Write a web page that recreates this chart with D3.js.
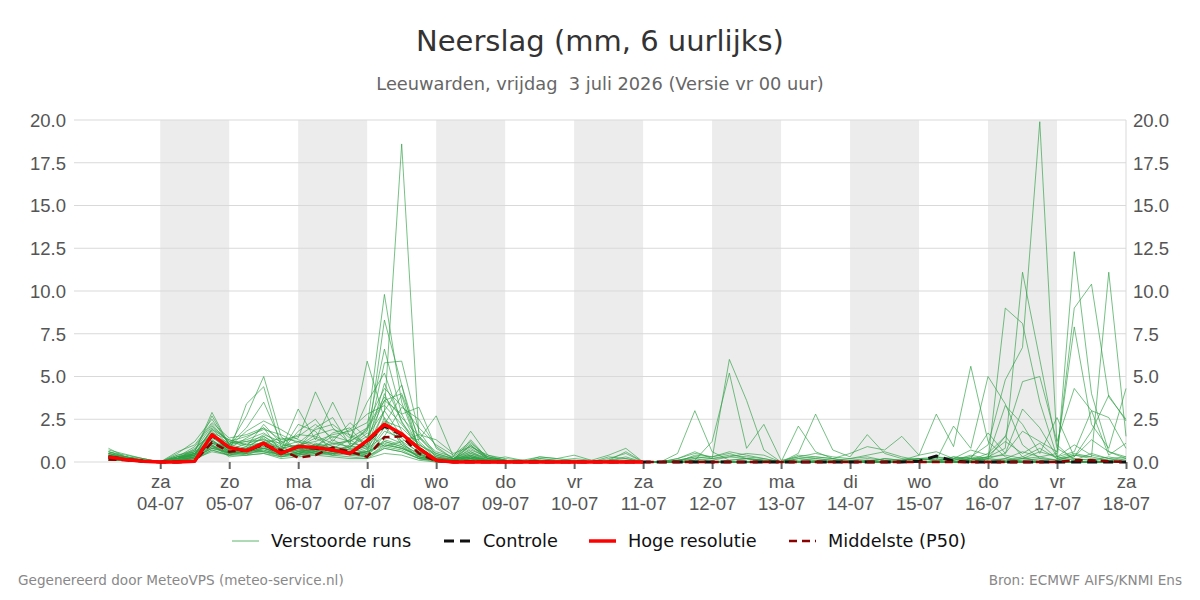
<!DOCTYPE html>
<html>
<head>
<meta charset="utf-8">
<title>Neerslag (mm, 6 uurlijks)</title>
<style>
    body { margin: 0; background: #fff; }
    svg { display: block; font-family: "DejaVu Sans", sans-serif; }
    .grid line { stroke: #d9d9d9; stroke-width: 1; }
    .run { fill: none; stroke: #2e9e44; stroke-opacity: 0.65; stroke-width: 1; }
    .axis text { fill: #555; font-size: 18.5px; }
    .axis path { display: none; }
    .xaxis line { stroke: #666; stroke-width: 2; }
</style>
</head>
<body>
<svg id="chart" width="1200" height="600"></svg>
<script src="https://d3js.org/d3.v7.min.js"></script>
<script>

// 6-hourly steps, first value valid 03-07 06:00
var firstStep = "2026-07-03T06:00:00Z";
var stepCount = 60;

var dayNames = ["za", "zo", "ma", "di", "wo", "do", "vr", "za", "zo", "ma", "di", "wo", "do", "vr", "za"];
var dayDates = ["04-07", "05-07", "06-07", "07-07", "08-07", "09-07", "10-07", "11-07", "12-07", "13-07", "14-07", "15-07", "16-07", "17-07", "18-07"];
var shadedDays = ["04-07", "06-07", "08-07", "10-07", "12-07", "14-07", "16-07"];
var yTicks = [0, 2.5, 5, 7.5, 10, 12.5, 15, 17.5, 20];

// Hoge resolutie (only first part of the period)
var hres = [0.3,0.15,0.05,0,0,0.05,1.6,0.85,0.65,1.1, 0.5,0.9,0.85,0.7,0.5,1.25,2.2,1.65,0.8,0.1,
            0,0,0,0,0,0,0,0,0,0, 0,0];

// Middelste (P50)
var p50 = [0.15,0.1,0.05,0,0,0.05,1.15,0.6,0.7,1.0, 0.7,0.25,0.4,0.85,0.6,0.3,1.45,1.5,0.5,0.05,
           0,0.05,0,0,0,0,0,0,0,0, 0,0,0,0,0,0,0,0,0,0,
           0,0,0,0,0,0,0,0,0,0, 0,0,0,0,0,0,0.1,0.1,0.05,0];

// Controle
var controle = [0.3,0.15,0.05,0,0,0.05,1.55,0.85,0.65,1.05, 0.5,0.9,0.8,0.7,0.5,1.2,2.1,1.6,0.8,0.1,
                0,0,0,0,0,0,0,0,0,0, 0,0,0,0,0,0,0,0,0,0,
                0,0,0,0,0,0,0,0.05,0.35,0.05, 0,0,0,0,0,0,0,0,0,0];

// Verstoorde runs
var runs = [
 [0.3,0.2,0.1,0,0.2,0.5,1.2,0.8,0.6,1.0, 0.5,0.8,1.0,0.7,0.9,1.5,3.0,18.6,1.5,0.3, 0.1,0.2,0.1,0,0,0.1,0,0,0,0, 0,0,0,0,0,0,0,0,0,0, 0,0,0,0,0.1,0,0,0,0,0, 0,0,0.2,0,0,0,0,0,0,0],
 [0.5,0.3,0.1,0,0.3,0.6,2.9,1.0,0.8,1.5, 0.9,1.2,0.6,1.3,0.8,2.0,9.8,3.5,0.8,0.2, 0.1,0.3,0,0,0,0,0,0,0,0, 0,0,0,0,0,0,0,0,0,0, 0,0,0,0,0,0,0,0,0,0, 0.2,0,0,0,0,0,0,0,0,0],
 [0.2,0.1,0,0,0.1,0.3,1.5,0.6,0.4,0.8, 0.6,0.4,1.1,0.8,0.5,1.0,8.3,4.5,1.2,0.3, 0.1,0.5,0.1,0,0,0,0,0,0,0, 0,0,0,0,0,0,0,0,0,0, 0,0,0,0,0,0,0.1,0.2,0.3,0.1, 0.3,1.0,4.8,6.7,19.9,1.0,0.1,0.5,0.2,0],
 [0.4,0.2,0.1,0,0.2,0.4,2.0,1.2,0.9,2.2, 1.1,0.7,0.9,1.5,1.2,1.8,6.6,2.8,0.9,0.2, 0.2,1.0,0.2,0.1,0,0,0,0,0,0, 0,0,0,0,0.2,0,0,0,0,0, 0,0,0,0,0,0,0,0,0,0, 0,0,0.1,0.2,0.1,0,12.3,4.0,0.6,0.2],
 [0.6,0.4,0.2,0,0.4,0.7,1.8,0.7,1.1,1.3, 0.8,1.0,0.8,0.6,1.0,5.9,2.5,1.0,0.5,0.1, 0,0.2,0,0,0,0,0,0,0,0, 0,0,0,0,0,0,0,0,0,0, 0,0,0,0,0,0,0,0,0,0, 0,0,0,0,0,0,0,0,0,0],
 [0.3,0.1,0,0,0.1,0.5,1.4,0.9,0.7,0.6, 0.4,0.9,1.4,0.9,0.7,1.2,5.8,5.9,1.8,0.4, 0.2,0.7,0.3,0.1,0,0,0,0,0,0, 0,0,0,0,0,0,0,0,0,0, 0,0,0,0,0,0,0,0,0,0, 0,0,0,0,0,0,0,0,0,0],
 [0.8,0.3,0.1,0,0.5,1.2,2.5,1.0,2.7,5.0, 1.5,0.6,0.8,1.1,0.9,0.8,2.2,3.9,0.7,0.1, 0,0.1,0,0,0,0,0,0,0,0, 0,0,0,0,0,0,0,0,0,0, 0,0,0,0,0,0,0,0,0,0, 0,0,0,0,0,0,0,0,0,0],
 [0.1,0.1,0,0,0.2,0.8,1.6,0.6,3.4,4.4, 0.9,0.5,0.7,0.8,1.3,0.7,4.0,1.8,0.6,0.3, 0.1,1.3,0.2,0,0,0.1,0,0,0,0, 0,0,0,0,0,0,0,0,0,0, 0,0,0,0,0,0,0,0,0,0, 0,0,0,0,0,0,0,0,0,0],
 [0.5,0.2,0.1,0,0.3,0.4,1.9,1.3,1.0,1.6, 1.2,1.4,4.1,2.0,1.1,0.9,3.0,1.5,1.3,2.7, 0.3,1.8,0.4,0.1,0,0,0,0,0,0, 0,0,0,0,0,0,0,0,0,0, 0,0,0,0,0,0,0,0,0,0, 0,0,0,0,0,0,0,0,0,0],
 [0.2,0.1,0,0,0.2,0.6,1.3,0.5,0.8,1.2, 0.7,3.1,1.3,3.5,1.5,1.0,4.6,2.4,0.7,0.2, 0.1,0.6,0.1,0,0,0,0,0,0,0, 0,0,0,0,0,0,0,0,0,0, 0,0,0,0,0,0,0,0,0,0, 0,0,0,0,0,0,0,0,0,0],
 [0.4,0.3,0.1,0,0.1,0.3,1.1,0.8,1.4,2.0, 0.6,1.8,2.5,1.2,2.3,1.4,3.6,2.8,3.2,0.8, 0.2,0.4,0.1,0.3,0.1,0,0,0,0,0, 0,0,0,0,0,0,0,0,0,0, 0,0,0,0,0,0,0,0,0,0, 0,0,0,0,0,0,0,0,0,0],
 [0.3,0.2,0.1,0,0.1,0.2,0.9,0.7,0.5,0.9, 0.3,0.6,0.5,0.9,0.6,0.4,1.2,0.9,0.3,0.1, 0,0.3,0.1,0,0,0.2,0.1,0,0,0.2, 0.5,0,0,0.1,0.3,0.2,6.0,3.6,0.7,0, 0.2,0.1,0,0,0.1,0,0,0,0,0, 0,0,0,0,0,0,0,0,0,0],
 [0.2,0.1,0,0,0,0.1,0.7,0.4,0.6,0.7, 0.4,0.5,0.9,0.6,0.4,0.3,2.6,1.2,0.2,0, 0,0.2,0,0,0,0,0,0,0,0, 0,0,0,0,0.1,1.2,5.2,0.8,2.2,0.1, 0.3,0.2,0.1,0,0,0,0,0,0,0, 0,0,0,0,0,0,0,0,0,0],
 [0.1,0.1,0,0,0.3,0.5,1.0,0.3,0.4,0.5, 0.2,0.3,0.4,0.3,0.2,0.2,0.5,0.4,0.1,0, 0.1,0.4,0.1,0,0.1,0,0,0.1,0,0.1, 0.2,0,0,0.5,3.0,0.6,0.1,0.2,0.1,0, 2.1,0.6,0.2,0,0,0,0,0,0,0, 0,0,0,0,0,0,0,0,0,0],
 [0.3,0.2,0,0,0.1,0.3,0.8,0.5,0.6,0.8, 0.5,0.4,0.6,0.5,0.6,0.3,0.8,0.6,0.2,0.1, 0.1,0.5,0.2,0.1,0,0.3,0.2,0.4,0.1,0, 0,0,0,0.1,0.3,0.2,0.3,0.5,0.4,0, 0.5,2.8,0.7,0.3,1.6,0.5,0.2,0.1,0.3,0.2, 0.1,0.5,1.5,0.3,0,0,0,0,0,0],
 [0.2,0.1,0,0,0.2,0.4,1.0,0.4,0.7,0.6, 0.5,0.7,0.7,0.8,0.4,0.6,1.0,0.8,0.4,0.2, 0.1,1.0,0.1,0,0,0,0,0.1,0,0.1, 0.6,0,0,0,0.4,0.3,0.5,0.2,0.1,0, 0.4,0.3,0.2,0.5,0.9,0.7,1.5,0.4,2.8,0.9, 5.6,1.2,0.3,0,0,0,0,0,0,0],
 [0.4,0.2,0.1,0,0.1,0.2,0.8,0.6,0.5,1.1, 0.7,0.5,0.8,0.4,0.8,0.5,1.8,1.4,0.5,0.1, 0,0.2,0,0,0,0,0,0,0,0, 0,0,0,0,0,0,0,0,0,0, 0,0,0.1,0,0,0.2,0.1,0.2,0.1,0.3, 0.2,0.1,9.0,8.1,3.5,0.3,0.1,0,0,0],
 [0.3,0.1,0,0,0.2,0.4,1.0,0.5,0.7,0.9, 0.6,0.8,0.5,0.7,0.5,0.6,1.1,0.8,0.4,0.2, 0.1,0.3,0.1,0,0,0,0,0,0,0, 0,0,0,0,0,0,0,0,0,0, 0,0,0,0,0,0,0,0,0.1,2.1, 0.8,5.0,3.4,1.0,0.2,0.1,0.4,0.2,0.1,0],
 [0.2,0.1,0,0,0.1,0.3,0.9,0.5,0.6,0.8, 0.4,0.6,0.7,0.5,0.6,0.4,1.3,1.0,0.3,0.1, 0,0.1,0,0,0,0,0,0,0,0, 0,0,0,0,0,0,0,0,0,0, 0,0,0,0,0,0,0,0,0,0, 0.1,0.3,0.8,11.1,6.0,0.8,0.2,0.1,0,0],
 [0.6,0.3,0.1,0,0.2,0.5,1.2,0.7,0.8,1.0, 0.5,0.4,0.6,0.9,0.7,0.6,2.0,1.2,0.6,0.2, 0.1,0.2,0,0,0,0,0,0,0,0, 0,0,0,0,0,0,0,0,0,0, 0,0,0,0,0,0,0,0,0,0, 0,0,0,0.2,0.3,0.5,9.0,10.4,3.8,2.5],
 [0.3,0.2,0.1,0,0.1,0.2,0.7,0.4,0.5,0.6, 0.3,0.5,0.4,0.6,0.5,0.3,0.9,0.7,0.2,0.1, 0,0.1,0,0,0,0,0,0,0,0, 0,0,0,0,0,0,0,0,0,0, 0,0,0,0,0,0,0,0,0,0, 0,0,0,0.1,0.2,0.1,0.4,0.3,11.1,1.5],
 [0.1,0.1,0,0,0.2,0.4,1.1,0.6,0.8,1.2, 0.8,0.6,1.0,0.8,0.6,0.5,1.5,1.1,0.4,0.1, 0.1,0.3,0,0,0,0,0,0,0,0, 0,0,0,0,0,0,0,0,0,0, 0,0,0,0,0,0,0,0,0,0, 0,0.2,0.5,1.8,1.2,0.6,7.9,2.2,0.8,4.3],
 [0.4,0.2,0.1,0,0.1,0.3,0.8,0.6,0.5,0.7, 0.4,0.5,0.6,0.4,0.5,0.3,1.0,0.8,0.3,0.1, 0,0.2,0,0,0,0,0,0,0,0, 0,0,0,0,0,0,0,0,0,0, 0,0,0,0,0,0,0,0,0,0.3, 0.1,0.2,1.5,4.7,5.0,1.2,4.3,3.0,2.6,0.8],
 [0.2,0.1,0,0,0.1,0.2,0.6,0.4,0.4,0.5, 0.3,0.4,0.5,0.4,0.3,0.2,0.8,0.6,0.2,0.1, 0,0.1,0,0,0,0,0,0,0,0, 0,0,0,0,0,0,0,0,0,0, 0,0,0,0,0,0,0,0,0,0, 0.2,1.7,0.5,3.1,2.0,0.3,0.6,3.0,0.4,1.1],
 [0.3,0.2,0,0,0.2,0.4,0.9,0.5,0.7,0.8, 0.5,0.7,0.6,0.5,0.6,0.5,1.2,0.9,0.3,0.1, 0,0.1,0,0,0,0,0,0,0,0, 0,0,0,0,0,0,0,0,0,0, 0,0,0,0,0,0,0,0,0,0, 0,0.3,3.3,2.2,0.5,2.6,0.3,1.8,3.9,2.4],
 [0.4,0.3,0.1,0,0.3,0.9,2.2,1.1,1.3,1.7, 1.0,0.9,1.6,1.9,1.6,1.1,2.4,2.0,1.0,0.4, 0.1,0.8,0.2,0,0,0.1,0,0,0,0, 0,0,0,0,0,0,0,0,0,0, 0,0,0,0,0,0,0,0,0,0, 0,0,0,0,0,0,0,0,0,0],
 [0.2,0.2,0,0,0.2,0.5,1.7,1.3,1.0,1.1, 1.4,1.2,0.9,1.7,2.0,0.8,1.5,3.2,2.5,0.9, 0.2,0.3,0.1,0.1,0,0,0,0,0,0, 0,0,0,0,0,0,0,0,0,0, 0,0,0,0,0,0,0,0,0,0, 0,0,0,0,0,0,0,0,0,0],
 [0.3,0.1,0,0,0.1,0.3,1.1,0.9,1.8,2.4, 1.9,1.3,1.0,1.0,1.3,3.5,5.2,2.3,1.1,0.2, 0,0.4,0,0,0,0,0,0,0,0, 0,0,0,0,0,0,0,0,0,0, 0,0,0,0,0,0,0,0,0,0, 0,0,0,0,0,0,0,0,0,0],
 [0.1,0.1,0,0,0.4,0.6,2.7,1.0,2.0,3.5, 1.2,0.8,2.0,2.6,1.0,0.6,3.0,4.5,0.6,0.1, 0,0.2,0,0,0,0,0,0,0,0, 0,0,0,0,0,0,0,0,0,0, 0,0,0,0,0,0,0,0,0,0, 0,0,0,0,0,0,0,0,0,0],
 [0.5,0.2,0.1,0,0.1,0.4,1.3,0.6,0.9,1.4, 0.6,2.2,1.8,0.5,0.9,1.7,0.9,1.2,1.6,1.3, 0.5,0.9,0.3,0.1,0,0,0,0,0,0, 0,0,0,0,0,0,0,0,0,0, 0,0,0,0,0,0,0,0,0,0, 0,0,0,0,0,0,0,0,0,0],
 [0.7,0.45,0.2,0,0.6,1.0,2.3,1.4,1.6,2.0, 1.3,1.5,2.2,1.4,1.9,2.8,3.3,2.2,1.0,0.5, 0.2,0.9,0.4,0.2,0.1,0.3,0.2,0.1,0,0.3, 0.2,0,0,0.1,0.2,0.1,0.3,0.2,0.1,0, 0.1,0.2,0.1,0.2,0.3,0.1,0,0.2,0.1,0.2, 0.3,0.1,0.2,0.6,0.3,0.1,0.2,0.1,0.3,0.1],
 [0.5,0.3,0.1,0,0.2,0.7,2.1,1.2,1.5,1.9, 1.6,1.1,1.9,2.2,1.4,2.0,3.8,2.6,1.5,0.6, 0.3,1.1,0.3,0.1,0,0.2,0.1,0.2,0.1,0.4, 0.8,0,0,0.2,0.5,0.3,0.6,0.4,0.2,0, 0.3,0.5,0.3,0.2,0.4,0.6,0.3,0.1,0.2,0.1, 0.4,0.2,0.1,0.3,0.8,0.2,0.5,0.3,0.1,0.2],
 [0.6,0.3,0.2,0,0.3,0.5,1.9,1.0,1.2,1.5, 0.8,1.0,1.2,1.6,1.8,2.3,4.3,3.3,2.0,1.0, 0.4,1.2,0.2,0.1,0,0,0,0,0,0, 0.1,0,0,0,0.1,0,0.1,0.2,0,0, 0,0.1,0,0.1,0,0.2,0.1,0.4,0.6,0.2, 0.7,0.4,1.2,0.5,1.1,0.2,0.3,1.3,0.6,0.3],
 [0.4,0.2,0.1,0,0.1,0.4,1.6,1.1,1.2,1.3, 1.1,1.6,1.5,1.1,1.2,1.9,3.6,4.0,1.4,0.5, 0.2,0.6,0.2,0,0.1,0.1,0,0,0,0.1, 0.3,0,0,0.2,0.6,0.2,0.4,0.3,0.2,0, 0.2,0.3,0.2,0.1,0.2,0.1,0.1,0.2,0.1,0.1, 0.2,0.3,0.4,0.2,0.6,0.3,1.0,0.4,0.2,0.3]
];

var margin = {left: 74, right: 74, top: 120, bottom: 138};
var width = 1200, height = 600;

var svg = d3.select('#chart');

var parseDay = function(s) { return new Date(Date.UTC(2026, +s.slice(3, 5) - 1, +s.slice(0, 2))); };
var start = new Date(firstStep);
var times = d3.range(stepCount).map(function(i) { return d3.utcHour.offset(start, 6 * i); });

var x = d3.scaleUtc()
    .domain([new Date("2026-07-02T18:00:00Z"), new Date("2026-07-18T00:00:00Z")])
    .range([margin.left, width - margin.right]);

var y = d3.scaleLinear()
    .domain([0, 20])
    .range([height - margin.bottom, margin.top]);

// alternating day shading
svg.append('g').selectAll('rect')
    .data(shadedDays)
    .enter()
    .append('rect')
    .attr('x', function(d) { return x(parseDay(d)); })
    .attr('y', margin.top)
    .attr('width', function(d) { return x(d3.utcDay.offset(parseDay(d), 1)) - x(parseDay(d)); })
    .attr('height', y(0) - margin.top)
    .style('fill', '#ececec');

// grid
svg.append('g').attr('class', 'grid').selectAll('line')
    .data(yTicks)
    .enter()
    .append('line')
    .attr('x1', margin.left)
    .attr('x2', width - margin.right)
    .attr('y1', function(d) { return y(d); })
    .attr('y2', function(d) { return y(d); });

svg.append('line')
    .attr('x1', width - margin.right).attr('x2', width - margin.right)
    .attr('y1', margin.top).attr('y2', y(0))
    .style('stroke', '#d9d9d9');

// axes
var fmt = d3.format('.1f');
svg.append('g')
    .attr('class', 'axis')
    .attr('transform', 'translate(' + (margin.left - 8) + ',0)')
    .call(d3.axisLeft(y).tickValues(yTicks).tickFormat(fmt).tickSize(0).tickPadding(0))
    .selectAll('text').attr('dy', '0.35em');

svg.append('g')
    .attr('class', 'axis')
    .attr('transform', 'translate(' + (width - margin.right + 7) + ',0)')
    .call(d3.axisRight(y).tickValues(yTicks).tickFormat(fmt).tickSize(0).tickPadding(0))
    .selectAll('text').attr('dy', '0.35em');

var xAxis = svg.append('g')
    .attr('class', 'axis xaxis')
    .attr('transform', 'translate(0,' + y(0) + ')')
    .call(d3.axisBottom(x).tickValues(dayDates.map(parseDay)).tickSize(7).tickFormat(''));

xAxis.selectAll('.tick').each(function(d, i) {
    var t = d3.select(this).append('text')
        .attr('text-anchor', 'middle')
        .style('fill', '#555');
    t.append('tspan').attr('x', 0).attr('y', 26).text(dayNames[i]);
    t.append('tspan').attr('x', 0).attr('y', 48).text(dayDates[i]);
});

// lines
var line = d3.line()
    .x(function(d, i) { return x(times[i]); })
    .y(function(d) { return y(d); });

svg.append('g').selectAll('path')
    .data(runs)
    .enter()
    .append('path')
    .attr('class', 'run')
    .attr('d', line);

svg.append('path')
    .attr('d', line(controle))
    .style('fill', 'none')
    .style('stroke', '#111')
    .style('stroke-width', 3)
    .style('stroke-dasharray', '10,6');

svg.append('path')
    .attr('d', line(p50))
    .style('fill', 'none')
    .style('stroke', '#8b0000')
    .style('stroke-width', 2.5)
    .style('stroke-dasharray', '8,5');

svg.append('path')
    .attr('d', line(hres))
    .style('fill', 'none')
    .style('stroke', '#ff0000')
    .style('stroke-width', 3.5)
    .style('stroke-linejoin', 'round');

// titles
svg.append('text')
    .attr('x', 600).attr('y', 51)
    .attr('text-anchor', 'middle')
    .style('font-size', '29px')
    .style('fill', '#333')
    .text('Neerslag (mm, 6 uurlijks)');

svg.append('text')
    .attr('x', 600).attr('y', 90)
    .attr('text-anchor', 'middle')
    .style('font-size', '17.8px')
    .style('fill', '#666')
    .style('white-space', 'pre')
    .text('Leeuwarden, vrijdag\u00a0 3 juli 2026 (Versie vr 00 uur)');

// legend
var legendItems = [
    {label: 'Verstoorde runs', x: 232, color: '#5cb56c', width: 1, dash: null},
    {label: 'Controle', x: 444, color: '#111', width: 3, dash: '10,6'},
    {label: 'Hoge resolutie', x: 589, color: '#ff0000', width: 3.5, dash: null},
    {label: 'Middelste (P50)', x: 789, color: '#8b0000', width: 2.5, dash: '8,5'}
];

var legend = svg.append('g').selectAll('g')
    .data(legendItems)
    .enter()
    .append('g')
    .attr('transform', function(d) { return 'translate(' + d.x + ',541)'; });

legend.append('line')
    .attr('x1', 0).attr('x2', 27)
    .style('stroke', function(d) { return d.color; })
    .style('stroke-width', function(d) { return d.width; })
    .style('stroke-dasharray', function(d) { return d.dash; });

legend.append('text')
    .attr('x', 39).attr('dy', '0.35em')
    .style('font-size', '17.7px')
    .style('fill', '#111')
    .text(function(d) { return d.label; });

// footer
svg.append('text')
    .attr('x', 18).attr('y', 585)
    .style('font-size', '13.6px')
    .style('fill', '#888')
    .text('Gegenereerd door MeteoVPS (meteo-service.nl)');

svg.append('text')
    .attr('x', 1182).attr('y', 585)
    .attr('text-anchor', 'end')
    .style('font-size', '13.6px')
    .style('fill', '#888')
    .text('Bron: ECMWF AIFS/KNMI Ens');

</script>
</body>
</html>
